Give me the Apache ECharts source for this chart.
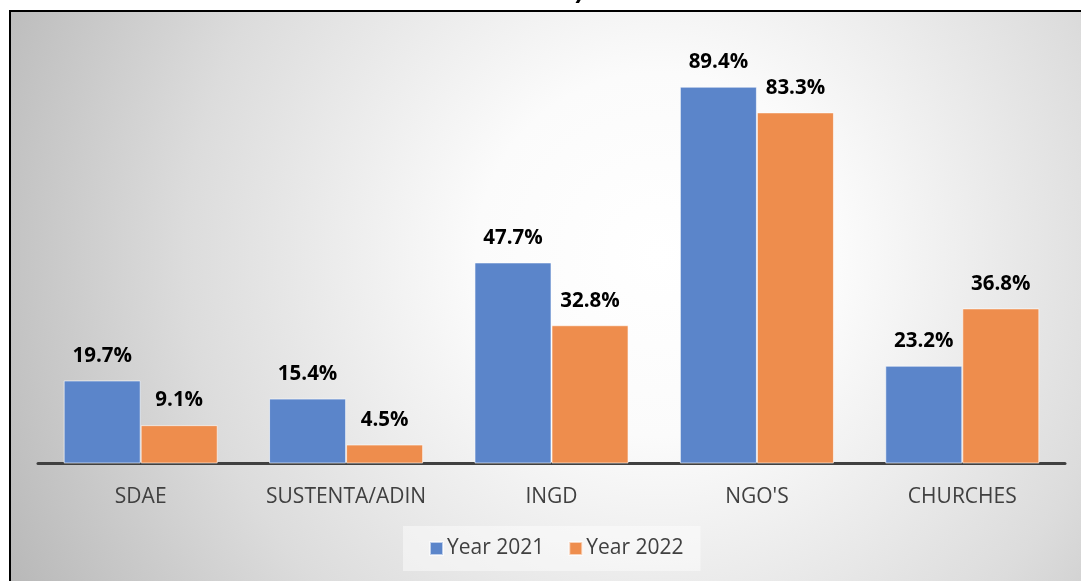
<!DOCTYPE html>
<html>
<head>
<meta charset="utf-8">
<script src="https://cdn.jsdelivr.net/npm/echarts@6/dist/echarts.min.js"></script>
<style>
html,body{margin:0;padding:0;background:#fff;}
#main{width:1081px;height:581px;}
</style>
</head>
<body>
<div id="main"></div>
<script>
const categories = ['SDAE', 'SUSTENTA/ADIN', 'INGD', "NGO'S", 'CHURCHES'];
const year2021 = [19.7, 15.4, 47.7, 89.4, 23.2];
const year2022 = [9.1, 4.5, 32.8, 83.3, 36.8];
const seriesNames = ['Year 2021', 'Year 2022'];
const titleTail = '2022)';

const chart = echarts.init(document.getElementById('main'), null, {renderer: 'canvas'});
const labelCfg = {
  show: true,
  position: 'top',
  distance: 14,
  fontFamily: 'Open Sans',
  fontWeight: 'bold',
  fontSize: 20.5,
  color: '#000',
  formatter: p => p.value.toFixed(1) + '%'
};
chart.setOption({
  backgroundColor: '#fff',
  animation: false,
  graphic: [
    {
      type: 'rect', z: -10, silent: true,
      shape: {x: 10, y: 11, width: 1080, height: 580},
      style: {
        fill: {
          type: 'radial', x: 0.6, y: 0.42, r: 1.25,
          colorStops: [
            {offset: 0, color: '#ffffff'},
            {offset: 0.25, color: '#fbfbfb'},
            {offset: 0.65, color: '#dcdcdc'},
            {offset: 1, color: '#b8b8b8'}
          ]
        },
        stroke: '#000', lineWidth: 2
      }
    },
    {
      type: 'text', z: 10, silent: true,
      left: 520, top: -21,
      style: {text: titleTail, fontFamily: 'Liberation Sans', fontWeight: 'bold', fontSize: 25, fill: '#000'}
    }
  ],
  grid: {left: 38, right: 16, top: 42, bottom: 117.5, containLabel: false},
  legend: {
    data: seriesNames,
    left: 403, top: 526,
    padding: [12, 17, 12, 26],
    backgroundColor: 'rgba(255,255,255,0.45)',
    itemWidth: 13, itemHeight: 13, itemGap: 24,
    icon: 'rect',
    textStyle: {fontFamily: 'Open Sans', fontSize: 21, color: '#404040', padding: [0,0,0,-1]}
  },
  xAxis: {
    type: 'category',
    data: categories,
    axisLine: {lineStyle: {color: '#404040', width: 3}},
    axisTick: {show: false},
    axisLabel: {interval: 0, hideOverlap: false, fontFamily: 'Open Sans', fontSize: 21, color: '#404040', margin: 23}
  },
  yAxis: {
    type: 'value', min: 0, max: 100, show: false,
    splitLine: {show: false}
  },
  series: [
    {
      name: seriesNames[0], type: 'bar', data: year2021,
      barGap: '0%', barCategoryGap: '25%',
      itemStyle: {color: '#5B85CA', borderColor: 'rgba(255,255,255,0.6)', borderWidth: 1},
      label: labelCfg
    },
    {
      name: seriesNames[1], type: 'bar', data: year2022,
      itemStyle: {color: '#EE8D4D', borderColor: 'rgba(255,255,255,0.6)', borderWidth: 1},
      label: labelCfg
    }
  ]
});
</script>
</body>
</html>
